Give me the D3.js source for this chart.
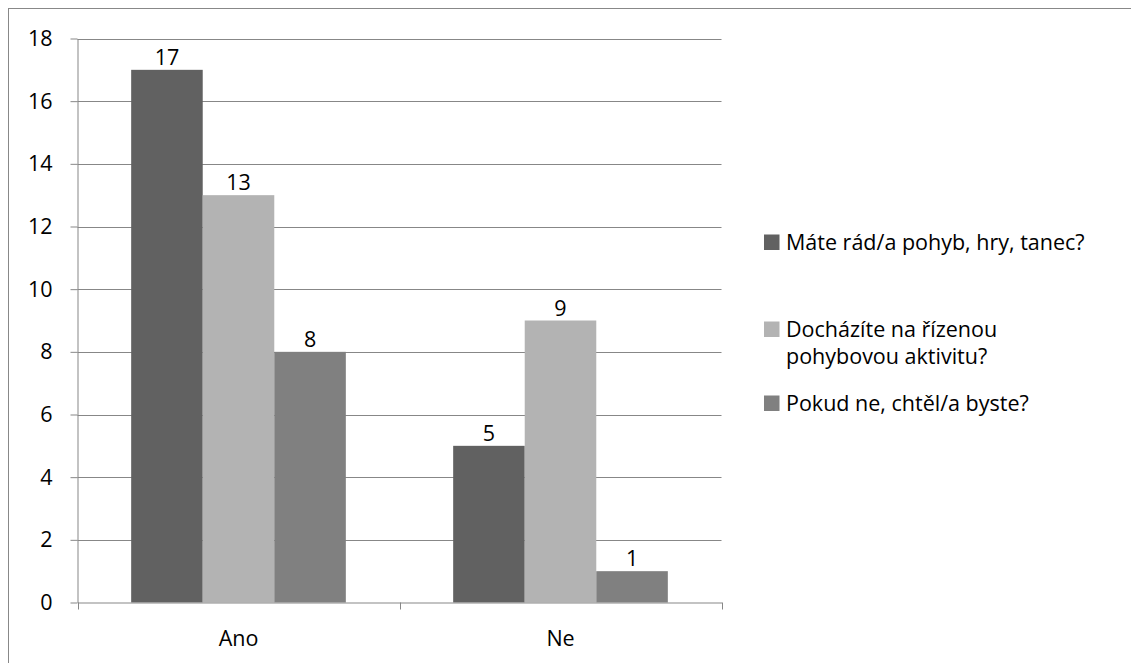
<!DOCTYPE html>
<html>
<head>
<meta charset="utf-8">
<script src="https://cdn.jsdelivr.net/npm/d3@7"></script>
<style>
  html, body { margin: 0; padding: 0; background: #fff; }
  svg { display: block; font-family: "Open Sans", "Noto Sans", sans-serif; }
</style>
</head>
<body>
<svg id="chart" width="1131" height="663"></svg>
<script>
// Answers per category for each survey question
const categories = ["Ano", "Ne"];
const seriesNames = [
  "Máte rád/a pohyb, hry, tanec?",
  "Docházíte na řízenou pohybovou aktivitu?",
  "Pokud ne, chtěl/a byste?"
];
const legendLines = [
  ["Máte rád/a pohyb, hry, tanec?"],
  ["Docházíte na řízenou", "pohybovou aktivitu?"],
  ["Pokud ne, chtěl/a byste?"]
];
const seriesValues = [
  [17, 5],
  [13, 9],
  [8, 1]
];
const yTicks = [0, 2, 4, 6, 8, 10, 12, 14, 16, 18];
const colors = ["#616161", "#b3b3b3", "#808080"];

const FONT = "'Open Sans', 'Noto Sans', sans-serif";
const FS = 21.5;

const svg = d3.select("#chart");

// outer frame
svg.append("rect")
  .attr("x", 8.5).attr("y", 8.5)
  .attr("width", 1140).attr("height", 680)
  .attr("fill", "none").attr("stroke", "#888").attr("stroke-width", 1);

const plot = { left: 77.5, right: 721.5, top: 38.5, bottom: 602.5 };

const x = d3.scaleBand().domain(categories).range([plot.left, plot.right]);
const xInner = d3.scaleBand().domain(d3.range(seriesNames.length))
  .range([0, x.bandwidth()]).paddingOuter(0.75).paddingInner(0);
const y = d3.scaleLinear().domain([0, 18]).range([plot.bottom, plot.top]);

// horizontal gridlines
svg.append("g").selectAll("line")
  .data(yTicks.filter(t => t > 0))
  .join("line")
  .attr("x1", plot.left).attr("x2", plot.right)
  .attr("y1", d => Math.round(y(d)) + 0.5).attr("y2", d => Math.round(y(d)) + 0.5)
  .attr("stroke", "#878787").attr("stroke-width", 1);

// y axis
const yAxis = svg.append("g")
  .attr("transform", `translate(${plot.left},0)`)
  .call(d3.axisLeft(y).tickValues(yTicks).tickSize(7).tickPadding(18).tickSizeOuter(0));
yAxis.select(".domain").attr("stroke", "#878787");
yAxis.selectAll(".tick line").attr("stroke", "#878787");
yAxis.selectAll(".tick text")
  .attr("font-size", FS).attr("fill", "#000")
  .attr("font-family", FONT);

// bars
const groups = svg.append("g").selectAll("g")
  .data(categories)
  .join("g")
  .attr("transform", d => `translate(${x(d)},0)`);

groups.selectAll("rect")
  .data((c, ci) => seriesValues.map((vals, si) => ({ si, v: vals[ci] })))
  .join("rect")
  .attr("x", d => xInner(d.si))
  .attr("width", xInner.bandwidth())
  .attr("y", d => y(d.v))
  .attr("height", d => y(0) - y(d.v))
  .attr("fill", d => colors[d.si]);

// value labels
groups.selectAll("text")
  .data((c, ci) => seriesValues.map((vals, si) => ({ si, v: vals[ci] })))
  .join("text")
  .attr("x", d => xInner(d.si) + xInner.bandwidth() / 2)
  .attr("y", d => y(d.v) - 5)
  .attr("text-anchor", "middle")
  .attr("font-size", FS).attr("fill", "#000")
  .text(d => d.v);

// x axis
const xAxis = svg.append("g")
  .attr("transform", `translate(0,${plot.bottom})`)
  .call(d3.axisBottom(x).tickSize(0).tickPadding(28));
xAxis.select(".domain").attr("stroke", "#878787");
xAxis.selectAll(".tick text")
  .attr("font-size", FS).attr("fill", "#000")
  .attr("font-family", FONT);
// category separator ticks
svg.append("g").selectAll("line")
  .data([plot.left, x("Ne"), plot.right])
  .join("line")
  .attr("x1", d => Math.round(d) + 0.5).attr("x2", d => Math.round(d) + 0.5)
  .attr("y1", plot.bottom).attr("y2", plot.bottom + 7)
  .attr("stroke", "#878787");

// legend: baseline of each entry's first line
const legendBaseline = [250, 337, 411];
const legend = svg.append("g").selectAll("g")
  .data(seriesNames)
  .join("g")
  .attr("transform", (d, i) => `translate(764,${legendBaseline[i]})`);
legend.append("rect")
  .attr("x", 0).attr("y", -15.5).attr("width", 15.5).attr("height", 15.5)
  .attr("fill", (d, i) => colors[i]);
legend.append("text")
  .attr("font-size", FS).attr("fill", "#000")
  .selectAll("tspan")
  .data((d, i) => legendLines[i])
  .join("tspan")
  .attr("x", 22)
  .attr("y", (d, j) => j * 27)
  .text(d => d);
</script>
</body>
</html>
